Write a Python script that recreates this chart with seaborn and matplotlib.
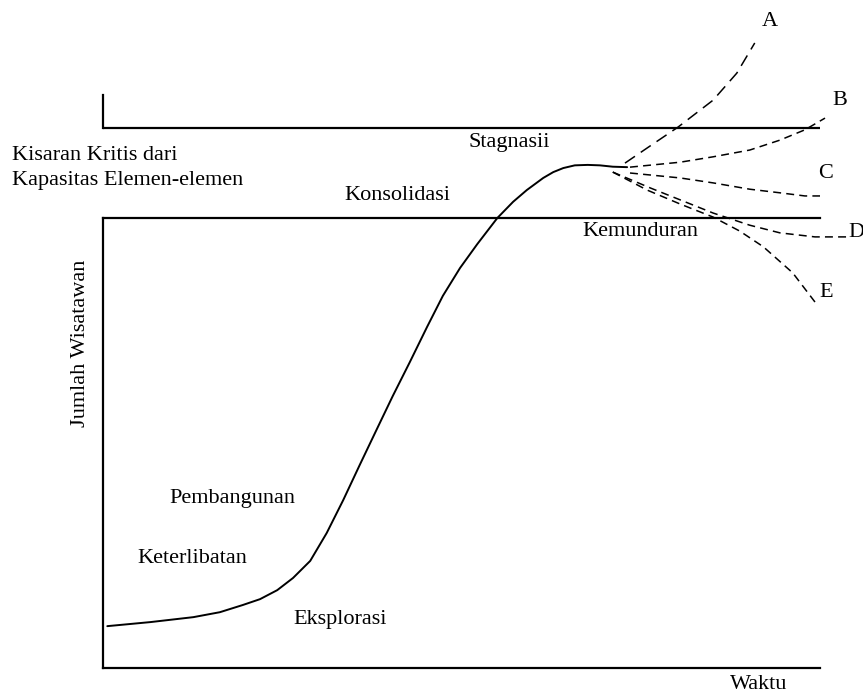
import matplotlib
matplotlib.use("Agg")
import matplotlib.pyplot as plt
import seaborn as sns
import pandas as pd

# ---------------- data (time %, visitors % of lower critical capacity) ----------------
main_t = [0.6, 6.6, 12.6, 16.3, 19.5, 21.9, 24.3, 26.5, 28.9, 31.2, 33.5, 35.8, 38.2,
          40.4, 42.8, 45.2, 47.4, 49.8, 52.2, 55.0, 57.2, 59.1, 61.4, 62.8, 64.2,
          65.8, 67.6, 69.3, 71.1, 73.1]
main_v = [9.3, 10.2, 11.3, 12.4, 14.0, 15.3, 17.3, 20.0, 23.8, 30.0, 37.3, 45.1, 53.1,
          60.4, 68.0, 75.8, 82.7, 88.9, 94.2, 100.0, 103.6, 106.2, 108.9, 110.2, 111.1,
          111.7, 111.8, 111.7, 111.4, 111.3]

a_t = [72.8, 76.3, 80.2, 85.1, 88.4, 90.9]
a_v = [112.2, 116.0, 120.2, 126.2, 132.2, 138.9]
b_t = [73.5, 80.5, 85.1, 90.2, 94.4, 97.9, 100.7]
b_v = [111.3, 112.4, 113.6, 115.1, 117.3, 119.6, 122.2]
c_t = [73.5, 80.5, 85.1, 90.2, 94.4, 97.9, 100.0]
c_v = [110.0, 108.9, 107.8, 106.4, 105.6, 104.9, 104.9]
d_t = [71.1, 76.3, 85.1, 90.2, 94.4, 99.3, 103.8]
d_v = [110.2, 106.7, 101.1, 98.4, 96.7, 95.8, 95.8]
e_t = [71.1, 75.9, 80.5, 85.1, 88.8, 92.1, 96.2, 99.6]
e_v = [110.2, 106.2, 103.1, 100.2, 97.1, 93.6, 87.8, 80.7]

branch_names = ["A", "B", "C", "D", "E"]
branch_label_pos = [(93.0, 143.6), (102.8, 126.2), (100.8, 110.0), (103.9, 96.7), (100.8, 83.4)]

critical_low = 100.0
critical_high = 120.0
critical_tick_top = 127.3

stage_labels = ["Stagnasii", "Konsolidasi", "Kemunduran", "Pembangunan", "Keterlibatan", "Eksplorasi"]
stage_pos = [(56.6, 116.7), (41.1, 105.1), (74.9, 96.9), (18.1, 37.6), (12.4, 24.4), (33.1, 10.7)]

capacity_label = "Kisaran Kritis dari\nKapasitas Elemen-elemen"
x_label = "Waktu"
y_label = "Jumlah Wisatawan"

# ---------------- style ----------------
sns.set_theme(style="white")
plt.rcParams["font.family"] = ["Liberation Serif", "DejaVu Serif"]
FS = 16.0

fig = plt.figure(figsize=(8.63, 6.92), dpi=100)
ax = fig.add_axes([103 / 863, 24 / 692, 717 / 863, 450 / 692])
ax.set_xlim(0, 100)
ax.set_ylim(0, 100)
ax.set_xticks([])
ax.set_yticks([])
for side in ["left", "bottom", "top"]:
    ax.spines[side].set_visible(True)
    ax.spines[side].set_color("black")
    ax.spines[side].set_linewidth(1.6)
ax.spines["right"].set_visible(False)

# upper critical bound and small vertical tick
ax.plot([0, 100], [critical_high, critical_high], color="black", lw=1.6, clip_on=False,
        solid_capstyle="butt")
ax.plot([0, 0], [critical_high, critical_tick_top], color="black", lw=1.6, clip_on=False,
        solid_capstyle="projecting")

# main life-cycle curve
df_main = pd.DataFrame({"t": main_t, "v": main_v})
sns.lineplot(data=df_main, x="t", y="v", sort=False, color="black", lw=1.4, ax=ax,
             clip_on=False, solid_joinstyle="round")

# branches
branches = [(a_t, a_v), (b_t, b_v), (c_t, c_v), (d_t, d_v), (e_t, e_v)]
for name, (bt, bv) in zip(branch_names, branches):
    df_b = pd.DataFrame({"t": bt, "v": bv})
    ls = (0, (7.9, 4.6)) if name == "A" else (0, (5.2, 3.4))
    sns.lineplot(data=df_b, x="t", y="v", sort=False, color="black", lw=1.1,
                 linestyle=ls, ax=ax, clip_on=False)

for name, (lx, ly) in zip(branch_names, branch_label_pos):
    ax.text(lx, ly, name, fontsize=FS, ha="center" if name != "D" else "left",
            va="center", clip_on=False, color="black")

for lab, (lx, ly) in zip(stage_labels, stage_pos):
    ax.text(lx, ly, lab, fontsize=FS, ha="center", va="center", clip_on=False, color="black")

ax.text(-12.7, 111.1, capacity_label, fontsize=FS, ha="left", va="center",
        linespacing=1.42, clip_on=False, color="black")

ax.set_xlabel("")
ax.set_ylabel("")
ax.text(91.5, -3.6, x_label, fontsize=FS, ha="center", va="center", clip_on=False, color="black")
ax.text(-3.2, 72.2, y_label, fontsize=FS, ha="center", va="center", rotation=90,
        clip_on=False, color="black")

fig.savefig("out.png", dpi=100)
